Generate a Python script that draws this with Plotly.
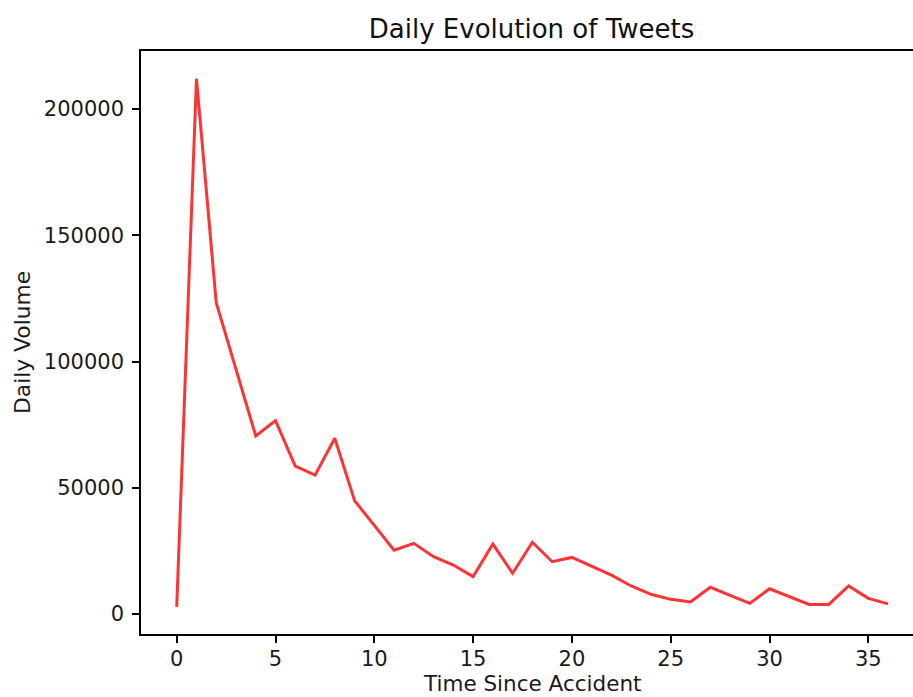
import plotly.graph_objects as go

# Daily tweet volume by day since the accident
days = list(range(37))
daily_volume = [
    2800, 212000, 123300, 97000, 70500, 76600, 58600, 55000, 69600, 44900,
    35200, 25300, 28000, 22700, 19400, 14800, 27700, 16100, 28400, 20700,
    22400, 19000, 15400, 11100, 7800, 5800, 4750, 10600, 7400, 4200,
    10000, 6900, 3800, 3800, 11100, 6200, 4000,
]
x_ticks = [0, 5, 10, 15, 20, 25, 30, 35]
y_ticks = [0, 50000, 100000, 150000, 200000]

title_text = "Daily Evolution of Tweets"
x_label = "Time Since Accident"
y_label = "Daily Volume"

FONT = "DejaVu Sans"
TEXT = "#1a1a1a"
W, H = 913, 697
L, R, T, B = 141, 0, 51, 63

fig = go.Figure()
fig.add_trace(go.Scatter(
    x=days, y=daily_volume, mode="lines",
    line=dict(color="rgba(255,0,0,0.8)", width=3),
    showlegend=False,
))

fig.update_layout(
    width=W, height=H,
    margin=dict(l=L, r=R, t=T, b=B, pad=0),
    paper_bgcolor="white", plot_bgcolor="white",
    font=dict(family=FONT, size=21, color=TEXT),
    title=dict(
        text=title_text, font=dict(family=FONT, size=26, color="#111111"),
        xref="container", yref="container",
        x=531.5 / W, y=1 - 28.5 / H, xanchor="center", yanchor="middle",
    ),
)

fig.update_xaxes(
    range=[-1.807, 37.26], tickmode="array", tickvals=x_ticks,
    showgrid=False, zeroline=False,
    showline=True, linecolor="black", linewidth=1.6, mirror=True,
    ticks="outside", ticklen=7, tickwidth=1.6, tickcolor="black",
    ticklabelstandoff=-2,
    tickfont=dict(family=FONT, size=21, color=TEXT),
)
fig.update_yaxes(
    range=[-7920, 222970], tickmode="array", tickvals=y_ticks,
    tickformat="d",
    showgrid=False, zeroline=False,
    showline=True, linecolor="black", linewidth=1.6, mirror=False,
    ticks="outside", ticklen=7, tickwidth=1.6, tickcolor="black",
    ticklabelstandoff=4,
    tickfont=dict(family=FONT, size=21, color=TEXT),
)

plot_w = W - L - R
plot_h = H - T - B
fig.add_annotation(
    text=x_label, xref="paper", yref="paper",
    x=(531.5 - L) / plot_w, y=-(H - (H - B)) / plot_h,
    xanchor="center", yanchor="bottom", yshift=-1, showarrow=False,
    font=dict(family=FONT, size=21.5, color=TEXT),
)
fig.add_annotation(
    text=y_label, xref="paper", yref="paper",
    x=-(L - 22) / plot_w, y=(H - B - 343) / plot_h,
    xanchor="center", yanchor="middle", textangle=-90, showarrow=False,
    font=dict(family=FONT, size=21.8, color=TEXT),
)

fig.write_html("out.html")
